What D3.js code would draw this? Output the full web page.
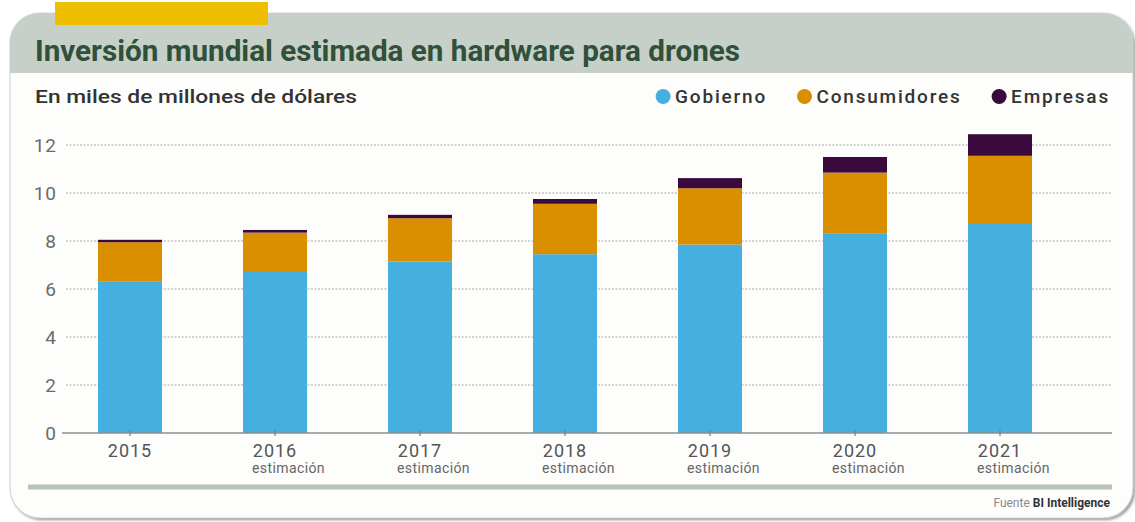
<!DOCTYPE html>
<html>
<head>
<meta charset="utf-8">
<script src="https://cdn.jsdelivr.net/npm/d3@7"></script>
<style>
  html, body { margin: 0; padding: 0; background: #ffffff; }
  svg { display: block; font-family: Roboto, "DejaVu Sans", sans-serif; }
</style>
</head>
<body>
<svg id="chart" width="1135" height="522"></svg>
<script>
// Annual estimates, billions of US dollars
const years = ["2015", "2016", "2017", "2018", "2019", "2020", "2021"];
const yearNotes = ["", "estimación", "estimación", "estimación", "estimación", "estimación", "estimación"];
const gobierno = [6.3, 6.75, 7.15, 7.45, 7.85, 8.3, 8.75];
const consumidores = [1.65, 1.6, 1.8, 2.1, 2.35, 2.55, 2.8];
const empresas = [0.1, 0.11, 0.14, 0.2, 0.42, 0.65, 0.9];
const seriesNames = ["Gobierno", "Consumidores", "Empresas"];
const yTicks = [0, 2, 4, 6, 8, 10, 12];

const title = "Inversión mundial estimada en hardware para drones";
const subtitle = "En miles de millones de dólares";
const sourceLabel = "Fuente";
const sourceName = "BI Intelligence";

const colors = { Gobierno: "#45afdf", Consumidores: "#d98f00", Empresas: "#3b0a3c" };

const svg = d3.select("#chart");

// ---- card frame ----
const defs = svg.append("defs");
defs.append("filter").attr("id", "soft")
  .attr("x", "-5%").attr("y", "-5%").attr("width", "110%").attr("height", "110%")
  .append("feGaussianBlur").attr("stdDeviation", 1.6);
defs.append("clipPath").attr("id", "cardClip")
  .append("rect").attr("x", 10).attr("y", 13).attr("width", 1123).attr("height", 505).attr("rx", 30);

svg.append("rect")
  .attr("x", 12).attr("y", 15).attr("width", 1123).attr("height", 505).attr("rx", 30)
  .attr("fill", "#8f918f").attr("filter", "url(#soft)");
svg.append("rect")
  .attr("x", 10).attr("y", 13).attr("width", 1123).attr("height", 505).attr("rx", 30)
  .attr("fill", "#fdfdfb").attr("stroke", "#d4d6d3").attr("stroke-width", 1.2);

// title band
svg.append("rect")
  .attr("clip-path", "url(#cardClip)")
  .attr("x", 10).attr("y", 13).attr("width", 1123).attr("height", 60)
  .attr("fill", "#c6cfc8");

// yellow tab
svg.append("rect")
  .attr("x", 55).attr("y", 2).attr("width", 213).attr("height", 23)
  .attr("fill", "#eebf00");

svg.append("text")
  .attr("x", 35).attr("y", 61)
  .attr("font-size", 30).attr("font-weight", 700).attr("fill", "#30503a")
  .attr("textLength", 705).attr("lengthAdjust", "spacingAndGlyphs")
  .text(title);

svg.append("text")
  .attr("x", 35).attr("y", 103)
  .attr("font-size", 19).attr("font-weight", 500).attr("fill", "#333")
  .attr("textLength", 322).attr("lengthAdjust", "spacingAndGlyphs")
  .text(subtitle);

// ---- legend, laid out right to left ----
const legend = svg.append("g");
let lx = 1110;
for (let i = seriesNames.length - 1; i >= 0; i--) {
  const name = seriesNames[i];
  const t = legend.append("text")
    .attr("y", 103).attr("font-size", 19).attr("font-weight", 500)
    .attr("letter-spacing", 1.8)
    .attr("fill", "#333").text(name);
  const w = t.node().getComputedTextLength();
  t.attr("x", lx - w);
  legend.append("circle")
    .attr("cx", lx - w - 12).attr("cy", 96.5).attr("r", 7.5)
    .attr("fill", colors[name]);
  lx = lx - w - 12 - 7.5 - 30;
}

// ---- scales ----
const y = d3.scaleLinear().domain([0, 12]).range([433, 145]);
const x = d3.scaleBand().domain(years)
  .range([57.5, 1072.5]).paddingInner(0.5586).paddingOuter(0.2793);

// gridlines
svg.append("g").selectAll("line")
  .data(yTicks.filter(d => d > 0))
  .join("line")
  .attr("x1", 66).attr("x2", 1112)
  .attr("y1", d => y(d)).attr("y2", d => y(d))
  .attr("stroke", "#a9aaa8").attr("stroke-width", 1)
  .attr("stroke-dasharray", "2,1.5");

// y axis labels
const yAxis = d3.axisLeft(y).tickValues(yTicks).tickSize(0).tickPadding(0);
const yg = svg.append("g").attr("transform", "translate(57,0)").call(yAxis);
yg.select(".domain").remove();
yg.selectAll("text")
  .attr("font-family", "Roboto, sans-serif")
  .attr("font-size", 19).attr("fill", "#6b6b6b").attr("dy", "0.36em")
  .attr("letter-spacing", 1);

// ---- stacked bars ----
const rows = years.map((yr, i) => ({
  year: yr, Gobierno: gobierno[i], Consumidores: consumidores[i], Empresas: empresas[i]
}));
const stacked = d3.stack().keys(seriesNames)(rows);

svg.append("g").selectAll("g")
  .data(stacked)
  .join("g")
  .attr("fill", d => colors[d.key])
  .selectAll("rect")
  .data(d => d)
  .join("rect")
  .attr("x", d => x(d.data.year))
  .attr("width", x.bandwidth())
  .attr("y", d => y(d[1]))
  .attr("height", d => y(d[0]) - y(d[1]));

// baseline
svg.append("line")
  .attr("x1", 62).attr("x2", 1112)
  .attr("y1", y(0)).attr("y2", y(0))
  .attr("stroke", "#8e8f8d").attr("stroke-width", 1.5);

// x axis ticks and two-line labels
const xAxis = d3.axisBottom(x).tickSize(3).tickSizeOuter(0).tickFormat("");
const xg = svg.append("g").attr("transform", `translate(0,${y(0)})`).call(xAxis);
xg.select(".domain").remove();
xg.selectAll(".tick line").attr("y1", -3).attr("stroke", "#7d7e7c").attr("stroke-width", 1.2);
xg.selectAll(".tick").each(function(d, i) {
  const g = d3.select(this);
  g.append("text")
    .attr("y", 24).attr("text-anchor", "middle")
    .attr("font-size", 18).attr("fill", "#555").attr("letter-spacing", 1)
    .attr("font-family", "Roboto, sans-serif")
    .text(d);
  if (yearNotes[i]) {
    g.append("text")
      .attr("x", -23).attr("y", 40).attr("text-anchor", "start")
      .attr("font-size", 14).attr("fill", "#666").attr("letter-spacing", 0.4)
      .attr("font-family", "Roboto, sans-serif")
      .text(yearNotes[i]);
  }
});

// ---- footer ----
svg.append("line")
  .attr("x1", 28).attr("x2", 1112).attr("y1", 487).attr("y2", 487)
  .attr("stroke", "#b8c2bb").attr("stroke-width", 5);

const src = svg.append("text")
  .attr("x", 1110).attr("y", 507).attr("text-anchor", "end").attr("font-size", 12);
src.append("tspan").attr("fill", "#8a8a8a").text(sourceLabel + " ");
src.append("tspan").attr("fill", "#333").attr("font-weight", 700).text(sourceName);
</script>
</body>
</html>
